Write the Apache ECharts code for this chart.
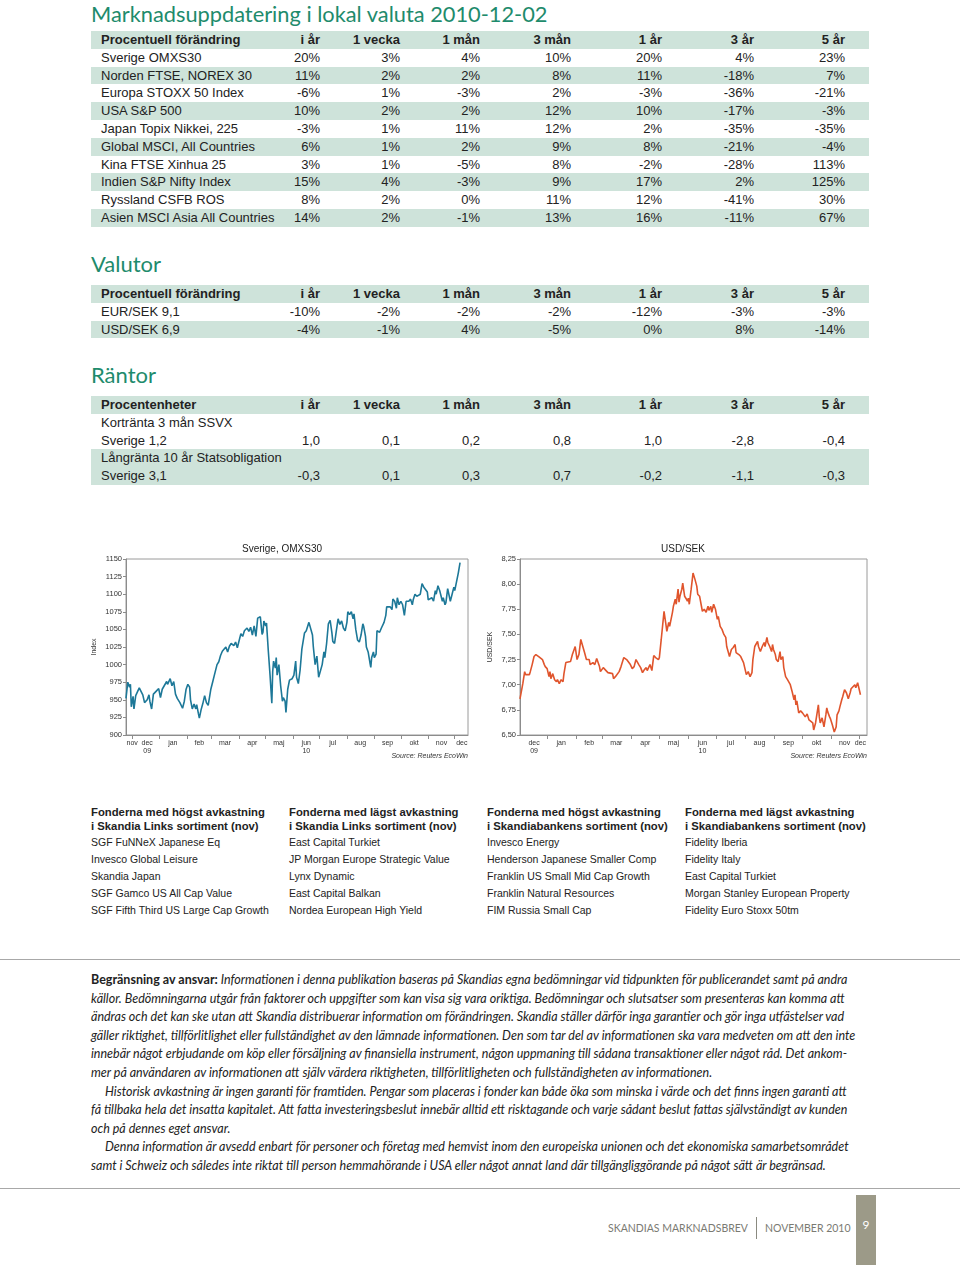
<!DOCTYPE html>
<html><head><meta charset="utf-8">
<script src="https://cdn.jsdelivr.net/npm/echarts@6/dist/echarts.min.js"></script>
<style>
html,body{margin:0;padding:0}
body{width:960px;height:1265px;position:relative;background:#fff;font-family:"Liberation Sans",Arial,sans-serif;color:#222;overflow:hidden}
.h{position:absolute;left:91px;color:#1e8b6c;font-family:Lato,"Open Sans",sans-serif;font-weight:400;white-space:nowrap;line-height:20px}
.tbl{position:absolute;left:91px;width:778px}
.row{height:17.8px;line-height:17.8px;font-size:13px;position:relative;white-space:nowrap}
.row.g{background:#cee3da}
.row.hd{font-weight:bold}
.row span{position:absolute;top:0}
.row .lab{left:10px}
.row .c{left:0;text-align:right}
.fund{position:absolute;top:805px;white-space:nowrap;color:#222}
.fund .fh{font-weight:bold;line-height:14px;font-size:11.3px}
.fund .fi{line-height:16.9px;font-size:10.5px}
.rule{position:absolute;left:0;width:960px;height:1px;background:#a8a8a8}
#disc{position:absolute;left:91px;top:971px;font-family:Lato,"Liberation Sans",sans-serif;font-style:italic;font-size:12.5px;line-height:18.6px;color:#222;white-space:nowrap}
#disc b{font-style:normal;font-weight:bold}
#foot{position:absolute;left:608px;top:1218px;font-family:Lato,sans-serif;font-size:10.5px;letter-spacing:0px;color:#7a7a72;white-space:nowrap}
#foot i{display:inline-block;width:1px;height:22px;background:#8a8a80;vertical-align:middle;margin:0 8px;position:relative;top:-1px}
#pg{position:absolute;left:856px;top:1195px;width:20px;height:70px;background:#9c9a88;color:#fff;font-family:Lato,sans-serif;font-size:12px;text-align:center;line-height:60px}
#charts{position:absolute;left:0;top:530px;width:960px;height:240px}
</style></head>
<body>
<div class="h" id="t1" style="top:0px;font-size:21.8px;line-height:27px">Marknadsuppdatering i lokal valuta 2010-12-02</div>
<div class="tbl" id="tab1" style="top:31px"></div>
<div class="h" style="top:254px;font-size:22px">Valutor</div>
<div class="tbl" id="tab2" style="top:285px"></div>
<div class="h" style="top:365px;font-size:22px">Räntor</div>
<div class="tbl" id="tab3" style="top:396px"></div>
<div id="charts"></div>
<div id="funds"></div>
<div class="rule" style="top:959px"></div>
<div id="disc"></div>
<div class="rule" style="top:1188px"></div>
<div id="foot">SKANDIAS MARKNADSBREV<i></i>NOVEMBER 2010</div>
<div id="pg">9</div>
<script>
// ---------- table data ----------
const columns = ['i år','1 vecka','1 mån','3 mån','1 år','3 år','5 år'];
const marketLabels = ['Sverige OMXS30','Norden FTSE, NOREX 30','Europa STOXX 50 Index','USA S&P 500','Japan Topix Nikkei, 225','Global MSCI, All Countries','Kina FTSE Xinhua 25','Indien S&P Nifty Index','Ryssland CSFB ROS','Asien MSCI Asia All Countries'];
const marketValues = [
  [20,3,4,10,20,4,23],
  [11,2,2,8,11,-18,7],
  [-6,1,-3,2,-3,-36,-21],
  [10,2,2,12,10,-17,-3],
  [-3,1,11,12,2,-35,-35],
  [6,1,2,9,8,-21,-4],
  [3,1,-5,8,-2,-28,113],
  [15,4,-3,9,17,2,125],
  [8,2,0,11,12,-41,30],
  [14,2,-1,13,16,-11,67]
];
const currencyLabels = ['EUR/SEK 9,1','USD/SEK 6,9'];
const currencyValues = [
  [-10,-2,-2,-2,-12,-3,-3],
  [-4,-1,4,-5,0,8,-14]
];
const rateGroups = ['Kortränta 3 mån SSVX','Långränta 10 år Statsobligation'];
const rateLabels = ['Sverige 1,2','Sverige 3,1'];
const rateValues = [
  [1.0,0.1,0.2,0.8,1.0,-2.8,-0.4],
  [-0.3,0.1,0.3,0.7,-0.2,-1.1,-0.3]
];

// ---------- chart data ----------
const omxDays = [0,2,4,5,6,8,9,11,13,15,17,19,21,24,26,27,29,31,34,37,39,41,43,46,47,50,52,54,56,58,61,63,64,66,68,70,72,73,75,77,79,80,82,83,85,87,89,91,93,94,96,98,100,103,105,107,109,111,113,115,117,119,122,124,126,128,130,132,134,137,139,141,143,145,147,149,152,154,155,156,158,159,161,163,165,166,167,169,170,171,173,175,177,178,180,181,183,185,188,190,192,193,195,197,199,202,204,207,209,211,212,214,216,218,220,222,224,225,227,229,231,233,234,236,238,240,242,244,246,248,250,251,253,255,257,258,260,262,264,266,268,269,271,272,274,276,277,278,280,281,283,284,286,287,289,291,292,294,295,297,299,301,302,304,306,307,309,311,313,315,317,318,320,322,324,325,327,329,331,333,334,335,337,339,341,342,344,346,348,350,351,353,355,356,358,359,361,362,364,365,367,369,371,372,374,376,378];
const omxIndex = [952,975,968,972,940,955,937,956,957,967,966,957,946,950,957,948,937,958,962,966,953,965,967,976,972,980,970,976,958,952,946,944,938,948,965,972,968,950,937,944,937,943,930,924,936,945,956,946,942,943,965,975,985,1000,1004,1013,1019,1017,1025,1018,1026,1030,1027,1032,1024,1022,1044,1040,1048,1052,1047,1053,1042,1055,1040,1066,1068,1043,1046,1062,1055,1059,1020,985,945,990,1005,995,1010,985,1000,970,948,953,948,932,965,978,980,985,1005,982,973,992,1022,1045,1048,1060,1058,1042,1025,1000,1012,982,982,1000,1018,1010,1030,1058,1063,1045,1033,1030,1048,1065,1057,1062,1052,1048,1060,1075,1071,1075,1065,1072,1050,1035,1032,1042,1058,1054,1040,1025,1018,1003,996,1010,1018,1010,1015,1048,1050,1046,1052,1050,1060,1070,1082,1080,1082,1078,1093,1090,1080,1095,1085,1090,1085,1070,1090,1088,1090,1093,1085,1092,1100,1097,1095,1100,1098,1115,1110,1108,1103,1092,1090,1095,1090,1105,1100,1112,1105,1100,1090,1095,1085,1088,1108,1110,1090,1100,1110,1105,1106,1130,1145];
const omxMonthStarts = [7,38,69,97,128,158,189,219,250,281,311,342,372];
const omxLabelDays = [7,24,53,83,112,143,173,204,234,265,296,326,357,380];
const omxLabelText = ['nov','dec\n09','jan','feb','mar','apr','maj','jun\n10','jul','aug','sep','okt','nov','dec'];

const usdDays = [0,3,5,6,8,10,11,13,15,17,19,20,22,24,26,27,29,31,32,33,35,37,39,40,42,44,46,47,49,51,54,56,59,61,63,65,67,69,71,74,75,78,80,82,85,86,89,91,94,96,99,100,102,104,106,108,110,111,114,116,118,120,122,124,127,129,131,133,135,136,139,141,143,145,148,149,151,154,156,157,159,160,163,164,166,167,169,170,171,173,174,176,178,179,180,181,183,185,187,189,190,192,194,195,197,199,201,202,204,205,207,209,211,212,214,216,218,220,221,224,226,228,230,231,234,236,239,240,242,244,246,248,249,251,254,255,257,259,261,262,264,265,267,269,270,271,273,274,276,278,279,281,282,284,286,288,289,291,293,294,295,296,298,300,302,304,305,307,309,311,313,314,316,319,320,321,323,325,327,328,329,331,332,334,336,338,339,341,342,344,345,347,349,351,353,354,356,358,359,361,362,364];
const usdSek = [6.86,7.01,7.13,7.10,7.11,7.10,7.13,7.20,7.28,7.30,7.31,7.28,7.29,7.25,7.20,7.18,7.16,7.08,7.13,7.06,7.11,7.05,7.03,7.05,7.01,7.05,7.03,7.11,7.22,7.23,7.23,7.30,7.38,7.25,7.30,7.45,7.44,7.32,7.25,7.25,7.20,7.22,7.20,7.26,7.18,7.13,7.17,7.15,7.12,7.13,7.11,7.06,7.08,7.07,7.13,7.18,7.19,7.27,7.25,7.26,7.20,7.16,7.18,7.25,7.20,7.17,7.12,7.15,7.17,7.14,7.20,7.14,7.29,7.27,7.25,7.27,7.45,7.73,7.60,7.53,7.62,7.58,7.72,7.78,7.85,7.80,7.95,7.82,7.88,7.95,8.01,7.88,7.85,7.83,7.86,7.80,7.95,8.11,8.05,7.98,7.90,7.88,7.78,7.73,7.75,7.72,7.78,7.74,7.78,7.72,7.80,7.75,7.65,7.68,7.58,7.55,7.50,7.47,7.38,7.28,7.35,7.37,7.40,7.32,7.30,7.28,7.22,7.18,7.10,7.13,7.08,7.12,7.25,7.38,7.43,7.38,7.33,7.38,7.42,7.38,7.47,7.42,7.38,7.33,7.40,7.35,7.30,7.25,7.23,7.33,7.25,7.28,7.17,7.08,7.05,7.04,7.00,6.93,6.85,6.90,6.80,6.84,6.72,6.74,6.72,6.73,6.68,6.71,6.65,6.66,6.62,6.55,6.62,6.80,6.68,6.62,6.67,6.58,6.70,6.77,6.73,6.68,6.66,6.60,6.53,6.58,6.70,6.74,6.78,6.85,6.88,6.95,6.92,6.86,6.92,6.96,6.96,7.00,6.97,7.02,6.98,6.90];
const usdMonthStarts = [29,60,88,119,149,180,210,241,272,302,333,363];
const usdLabelDays = [15,44,74,103,134,164,195,225,256,287,317,347,364];
const usdLabelText = ['dec\n09','jan','feb','mar','apr','maj','jun\n10','jul','aug','sep','okt','nov','dec'];

// ---------- fund lists & texts ----------
const fundHeads = [
  ['Fonderna med högst avkastning','i Skandia Links sortiment (nov)'],
  ['Fonderna med lägst avkastning','i Skandia Links sortiment (nov)'],
  ['Fonderna med högst avkastning','i Skandiabankens sortiment (nov)'],
  ['Fonderna med lägst avkastning','i Skandiabankens sortiment (nov)']
];
const fundItems = [
  ['SGF FuNNeX Japanese Eq','Invesco Global Leisure','Skandia Japan','SGF Gamco US All Cap Value','SGF Fifth Third US Large Cap Growth'],
  ['East Capital Turkiet','JP Morgan Europe Strategic Value','Lynx Dynamic','East Capital Balkan','Nordea European High Yield'],
  ['Invesco Energy','Henderson Japanese Smaller Comp','Franklin US Small Mid Cap Growth','Franklin Natural Resources','FIM Russia Small Cap'],
  ['Fidelity Iberia','Fidelity Italy','East Capital Turkiet','Morgan Stanley European Property','Fidelity Euro Stoxx 50tm']
];
const fundLeft = [91,289,487,685];
const discLines = [
  '<b>Begränsning av ansvar:</b> Informationen i denna publikation baseras på Skandias egna bedömningar vid tidpunkten för publicerandet samt på andra',
  'källor. Bedömningarna utgår från faktorer och uppgifter som kan visa sig vara oriktiga. Bedömningar och slutsatser som presenteras kan komma att',
  'ändras och det kan ske utan att Skandia distribuerar information om förändringen. Skandia ställer därför inga garantier och gör inga utfästelser vad',
  'gäller riktighet, tillförlitlighet eller fullständighet av den lämnade informationen. Den som tar del av informationen ska vara medveten om att den inte',
  'innebär något erbjudande om köp eller försäljning av finansiella instrument, någon uppmaning till sådana transaktioner eller något råd. Det ankom-',
  'mer på användaren av informationen att själv värdera riktigheten, tillförlitligheten och fullständigheten av informationen.',
  '<span style="padding-left:14px"></span>Historisk avkastning är ingen garanti för framtiden. Pengar som placeras i fonder kan både öka som minska i värde och det finns ingen garanti att',
  'få tillbaka hela det insatta kapitalet. Att fatta investeringsbeslut innebär alltid ett risktagande och varje sådant beslut fattas självständigt av kunden',
  'och på dennes eget ansvar.',
  '<span style="padding-left:14px"></span>Denna information är avsedd enbart för personer och företag med hemvist inom den europeiska unionen och det ekonomiska samarbetsområdet',
  'samt i Schweiz och således inte riktat till person hemmahörande i USA eller något annat land där tillgängliggörande på något sätt är begränsad.'
];

// ---------- build tables ----------
const colRight = [229,309,389,480,571,663,754];
function rowHtml(label, cells, cls){
  let h = '<div class="row '+cls+'"><span class="lab">'+label.replace(/&/g,'&amp;')+'</span>';
  if (cells) cells.forEach((c,i)=>{ h += '<span class="c" style="width:'+colRight[i]+'px">'+c+'</span>'; });
  return h + '</div>';
}
const pct = v => v + '%';
const dec1 = v => v.toFixed(1).replace('.', ',');
let h1 = rowHtml('Procentuell förändring', columns, 'g hd');
marketLabels.forEach((l,i)=>{ h1 += rowHtml(l, marketValues[i].map(pct), i%2 ? 'g' : ''); });
document.getElementById('tab1').innerHTML = h1;
let h2 = rowHtml('Procentuell förändring', columns, 'g hd');
currencyLabels.forEach((l,i)=>{ h2 += rowHtml(l, currencyValues[i].map(pct), i%2 ? 'g' : ''); });
document.getElementById('tab2').innerHTML = h2;
let h3 = rowHtml('Procentenheter', columns, 'g hd');
rateGroups.forEach((g,i)=>{
  const cls = i%2 ? 'g' : '';
  h3 += rowHtml(g, null, cls);
  h3 += rowHtml(rateLabels[i], rateValues[i].map(dec1), cls);
});
document.getElementById('tab3').innerHTML = h3;

let fh = '';
fundHeads.forEach((hd,i)=>{
  fh += '<div class="fund" style="left:'+fundLeft[i]+'px">' +
    hd.map(t=>'<div class="fh">'+t+'</div>').join('') +
    '<div style="height:1px"></div>' +
    fundItems[i].map(t=>'<div class="fi">'+t+'</div>').join('') + '</div>';
});
document.getElementById('funds').innerHTML = fh;
document.getElementById('disc').innerHTML = discLines.join('<br>');

// ---------- charts ----------
const zip = (a,b) => a.map((x,i)=>[x,b[i]]);
const lab = (pos, txt) => v => { const k = pos.indexOf(v); return k >= 0 ? txt[k] : ''; };
const axisCol = '#8c8c8c';
function xAx(grid, max, ticks, lpos, ltxt){
  return {type:'value', gridIndex:grid, min:0, max:max,
    axisLine:{show:true, lineStyle:{color:axisCol, width:1}},
    axisTick:{show:true, customValues:ticks, length:4, lineStyle:{color:axisCol}},
    axisLabel:{customValues:lpos, formatter:lab(lpos,ltxt), fontSize:7, color:'#333', margin:4, lineHeight:8, fontFamily:'Liberation Sans'},
    splitLine:{show:false}};
}
function yAx(grid, min, max, step, name, fmt, gap){
  return {type:'value', gridIndex:grid, min:min, max:max, interval:step,
    name:name, nameLocation:'middle', nameGap:gap, nameRotate:90,
    nameTextStyle:{fontSize:7, color:'#333', fontFamily:'Liberation Sans'},
    axisLine:{show:true, lineStyle:{color:axisCol}},
    axisTick:{show:true, length:3, lineStyle:{color:axisCol}},
    axisLabel:{fontSize:7.5, color:'#333', margin:4, formatter:fmt, fontFamily:'Liberation Sans'},
    splitLine:{show:false}};
}
const chart = echarts.init(document.getElementById('charts'), null, {renderer:'canvas'});
chart.setOption({
  animation:false,
  title:[
    {text:'Sverige, OMXS30', left:237, top:9, textStyle:{fontSize:10, fontWeight:'normal', color:'#222', fontFamily:'Liberation Sans'}},
    {text:'USD/SEK', left:656, top:9, textStyle:{fontSize:10, fontWeight:'normal', color:'#222', fontFamily:'Liberation Sans'}}
  ],
  grid:[
    {left:126, top:29, width:342, height:176, show:true, borderColor:'#9a9a9a', borderWidth:1},
    {left:520, top:29, width:347, height:176, show:true, borderColor:'#9a9a9a', borderWidth:1}
  ],
  xAxis:[
    xAx(0, 387, omxMonthStarts, omxLabelDays, omxLabelText),
    xAx(1, 371, usdMonthStarts, usdLabelDays, usdLabelText)
  ],
  yAxis:[
    yAx(0, 900, 1150, 25, 'Index', v=>String(v), 28),
    yAx(1, 6.5, 8.25, 0.25, 'USD/SEK', v=>v.toFixed(2).replace('.', ','), 26)
  ],
  series:[
    {type:'line', xAxisIndex:0, yAxisIndex:0, data:zip(omxDays, omxIndex), showSymbol:false, symbol:'none',
     lineStyle:{color:'#1d7898', width:1.6}},
    {type:'line', xAxisIndex:1, yAxisIndex:1, data:zip(usdDays, usdSek), showSymbol:false, symbol:'none',
     lineStyle:{color:'#e0552d', width:1.6}}
  ],
  graphic:[
    {type:'text', right:492, top:223, style:{text:'Source: Reuters EcoWin', font:'italic 7px "Liberation Sans"', fill:'#333'}},
    {type:'text', right:93, top:223, style:{text:'Source: Reuters EcoWin', font:'italic 7px "Liberation Sans"', fill:'#333'}}
  ]
});
</script>
</body></html>
